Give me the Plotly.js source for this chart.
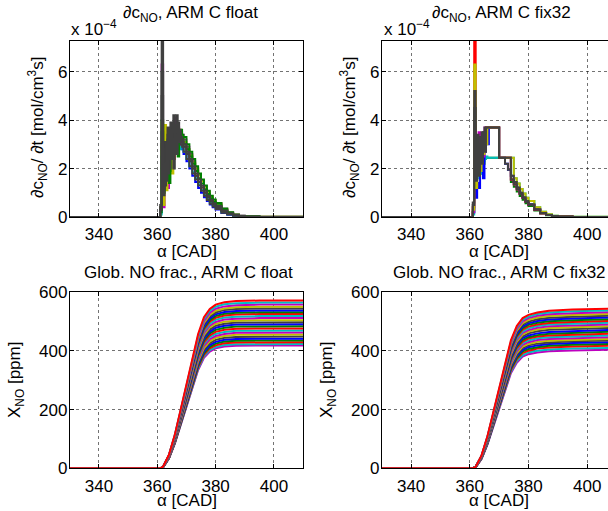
<!DOCTYPE html>
<html>
<head>
<meta charset="utf-8">
<script src="https://cdn.plot.ly/plotly-3.0.1.min.js"></script>
<style>
html,body{margin:0;padding:0;overflow:hidden;background:#fff;}
#chart{width:620px;height:511px;}
</style>
</head>
<body>
<div id="chart"></div>
<script>
// ---------------- DATA ----------------
// crank angle grid for the NO rate panels (CAD)
const crankRate = [330,360.5,361,361.5,362,362.5,363,363.5,364,364.5,365,365.5,366,366.5,367,367.5,368,368.5,369,370,371,372,373,374,375,376,377,378,379,380,382,384,386,388,390,395,410];

// dc_NO/dt, ARM C float  (x 1e-4 mol/cm^3 s)
const rateFloat = [
  [0,0,0.3,3.0,1.6,2.4,2.9,2.2,3.3,2.7,3.0,2.4,3.9,3.1,3.5,2.9, 3.3,3.1,2.9,2.6,2.3,2.0,1.7,1.45,1.22,1.0,0.82,0.66,0.52,0.41,0.24,0.13,0.07,0.03,0.01,0,0],
  [0,0,0.2,2.5,1.4,1.9,1.6,1.2,2.2,2.8,2.0,3.2,2.6,3.4,2.9,3.3, 3.0,2.8,2.6,2.3,2.0,1.7,1.45,1.2,1.0,0.82,0.66,0.52,0.40,0.31,0.17,0.09,0.04,0.02,0.01,0,0],
  [0,0,0.1,2.0,1.2,1.7,2.3,2.0,2.6,2.3,2.8,3.0,2.7,3.1,3.0,2.8, 2.9,3.0,2.7,2.4,2.1,1.85,1.6,1.35,1.12,0.92,0.74,0.59,0.46,0.36,0.2,0.11,0.05,0.02,0.01,0,0],
  [0,0,0.3,6.3,0.4,1.8,2.6,1.2,3.0,2.2,3.5,3.1,4.1,3.3,3.7,3.0, 3.5,3.4,3.2,2.9,2.6,2.3,2.0,1.75,1.5,1.27,1.05,0.86,0.70,0.56,0.34,0.19,0.10,0.05,0.02,0.01,0],
  [0,0,0.4,3.9,0.5,3.8,1.1,2.5,2.1,3.3,1.8,2.9,3.5,2.7,3.1,3.6, 3.4,3.3,3.1,2.8,2.55,2.25,2.0,1.72,1.48,1.25,1.04,0.85,0.69,0.55,0.33,0.18,0.09,0.04,0.02,0.01,0],
  [0,0,0.2,6.0,1.0,2.2,1.8,2.9,1.4,3.1,2.4,3.6,2.8,3.2,2.5,3.4, 3.2,3.3,3.0,2.8,2.5,2.2,1.9,1.6,1.38,1.15,0.95,0.77,0.62,0.49,0.29,0.16,0.08,0.04,0.02,0,0],
  [0,0,0.3,4.0,1.1,2.6,2.1,3.2,1.9,3.4,2.9,3.3,3.5,3.0,3.6,3.2, 3.6,3.4,3.3,3.0,2.7,2.4,2.1,1.8,1.55,1.3,1.08,0.88,0.72,0.58,0.35,0.2,0.1,0.05,0.02,0.01,0],
  [0,0,0.3,5.0,0.9,3.1,2.0,3.7,2.4,3.0,3.8,2.6,3.6,4.2,3.3,3.5, 3.3,3.1,2.9,2.6,2.3,2.0,1.7,1.45,1.22,1.0,0.82,0.66,0.52,0.41,0.24,0.13,0.07,0.03,0.01,0,0],
  [0,0,0.5,9.0,1.2,2.8,1.5,3.4,2.0,3.9,2.6,4.2,3.0,3.8,3.4,3.6, 3.2,3.2,3.0,2.7,2.4,2.1,1.8,1.55,1.3,1.08,0.88,0.71,0.57,0.45,0.27,0.14,0.07,0.03,0.01,0,0],
  [0,0,0.4,3.5,2.2,1.3,3.0,1.8,3.6,2.4,3.2,2.0,3.4,2.6,3.9,3.1, 3.0,2.9,2.7,2.4,2.1,1.8,1.55,1.3,1.08,0.88,0.7,0.55,0.43,0.33,0.18,0.1,0.05,0.02,0.01,0,0]
];
const rateFloatColors = ['#FF0000','#0000FF','#00BFBF','#BF00BF','#BFBF00','#008000','#008000','#404040','#404040','#404040'];

// dc_NO/dt, ARM C fix32  (x 1e-4 mol/cm^3 s)
const rateFix = [
  [0,0,0.2,2.5,1.6,2.0,2.5,1.8,2.7,2.2,2.45,2.45,2.45,2.45,2.45,2.45, 2.45,2.45,2.45,2.45,2.45,2.45,2.45,1.45,1.25,1.05,0.87,0.71,0.57,0.45,0.27,0.14,0.07,0.03,0.01,0,0],
  [0,0,0.1,2.2,1.4,1.9,1.6,2.1,1.8,2.3,2.4,2.5,2.45,2.45,2.45,2.45, 2.45,2.45,2.45,2.45,2.45,2.45,2.45,2.45,1.6,1.38,1.16,0.97,0.8,0.66,0.4,0.22,0.11,0.05,0.02,0.01,0],
  [0,0,0.2,3.9,0.8,1.4,1.2,1.9,2.3,1.6,2.7,3.6,3.0,3.7,3.7,3.7, 3.7,3.7,3.7,2.45,2.45,2.2,1.95,1.7,1.45,1.22,1.0,0.82,0.66,0.53,0.32,0.17,0.08,0.04,0.02,0,0],
  [0,0,0.2,2.8,1.3,2.4,3.5,2.2,3.1,2.5,3.7,3.7,3.7,3.7,3.7,3.7, 3.7,3.7,3.7,2.45,2.45,2.45,2.45,1.55,1.35,1.15,0.95,0.78,0.62,0.5,0.3,0.16,0.08,0.04,0.02,0,0],
  [0,0,0.4,7.6,1.8,2.6,2.2,2.9,2.4,3.1,3.2,3.7,3.7,3.7,3.7,3.7, 3.7,3.7,3.7,2.45,2.45,2.45,2.45,1.55,1.35,1.15,0.95,0.78,0.62,0.5,0.3,0.16,0.08,0.04,0.02,0,0],
  [0,0,0.3,6.3,1.2,2.0,2.8,1.9,3.0,2.6,3.4,3.0,3.7,3.7,3.7,3.7, 3.7,3.7,3.7,2.45,2.45,2.45,2.45,2.45,1.6,1.38,1.16,0.97,0.8,0.66,0.4,0.22,0.11,0.05,0.02,0.01,0],
  [0,0,0.6,4.5,2.0,3.4,2.1,3.0,3.5,2.9,3.7,3.7,3.7,3.7,3.7,3.7, 3.7,3.7,3.7,2.45,2.45,2.45,2.45,1.55,1.35,1.15,0.95,0.78,0.62,0.5,0.3,0.16,0.08,0.04,0.02,0,0],
  [0,0,0.5,5.2,1.5,2.8,1.7,3.3,2.2,3.5,2.7,3.7,3.7,3.7,3.7,3.7, 3.7,3.7,3.7,2.45,2.45,2.2,1.95,1.7,1.45,1.22,1.0,0.82,0.66,0.53,0.32,0.17,0.08,0.04,0.02,0,0]
];
const rateFixColors = ['#008000','#00BFBF','#0000FF','#BF00BF','#FF0000','#BFBF00','#404040','#404040'];

// crank angle grid for the NO fraction panels (CAD)
const crankFrac = [330,361,362,364,366,368,370,372,374,376,378,380,383,387,395,410];

// global NO fraction, ARM C float (ppm)
const fracFloat = [
  [0,0,6,46,114,200,286,378,458,515,543,558,566,570,572,572],
  [0,0,6,45,113,198,283,373,452,509,537,551,559,563,565,565],
  [0,0,6,45,112,195,279,368,446,502,530,544,552,556,558,558],
  [0,0,6,44,110,193,276,364,441,496,523,537,545,549,551,551],
  [0,0,5,44,109,191,273,360,436,491,518,531,540,543,545,545],
  [0,0,5,43,108,188,269,355,430,484,511,525,533,536,538,538],
  [0,0,5,43,106,186,266,351,426,479,505,519,527,530,532,532],
  [0,0,5,42,105,184,263,347,421,473,500,513,521,524,526,526],
  [0,0,5,42,104,182,260,343,415,467,493,506,514,517,519,519],
  [0,0,5,41,102,179,256,338,410,461,486,499,507,510,512,512],
  [0,0,5,40,101,177,253,333,404,455,480,492,500,503,505,505],
  [0,0,5,40,100,174,249,329,398,448,473,486,493,497,498,498],
  [0,0,5,39,98,172,246,324,393,442,466,479,486,490,491,491],
  [0,0,5,39,97,169,242,319,387,436,460,472,479,483,484,484],
  [0,0,5,38,95,167,239,315,382,429,453,465,472,476,477,477],
  [0,0,5,38,94,165,235,310,376,423,447,458,465,469,470,470],
  [0,0,5,37,93,162,232,306,370,417,440,451,458,462,463,463],
  [0,0,5,36,91,160,228,301,365,410,433,445,451,455,456,456],
  [0,0,4,36,90,157,225,296,359,404,427,438,445,448,449,449],
  [0,0,4,35,88,155,221,292,354,398,420,431,438,441,442,442],
  [0,0,4,35,87,153,218,288,349,392,414,425,432,435,436,436],
  [0,0,4,34,86,151,215,284,344,387,409,419,426,429,430,430],
  [0,0,4,34,85,148,212,280,339,382,403,413,420,423,424,424],
  [0,0,4,34,84,147,210,277,335,377,398,409,415,418,419,419]
];

// global NO fraction, ARM C fix32 (ppm)
const fracFix = [
  [0,0,5,44,109,191,273,360,436,485,512,523,531,537,541,545],
  [0,0,5,43,108,189,270,356,431,480,507,517,526,531,535,539],
  [0,0,5,43,107,187,267,352,426,474,501,512,520,525,529,533],
  [0,0,5,42,105,184,264,348,422,469,495,506,514,519,523,527],
  [0,0,5,42,104,182,261,344,417,464,490,500,508,513,517,521],
  [0,0,5,41,103,180,258,340,412,458,484,494,502,507,511,515],
  [0,0,5,41,102,178,255,336,407,453,478,489,496,501,505,509],
  [0,0,5,40,101,176,252,332,402,448,473,483,490,495,499,503],
  [0,0,5,40,99,174,249,328,398,442,467,477,485,490,493,497],
  [0,0,5,39,98,172,246,324,393,437,462,471,479,484,487,491],
  [0,0,5,39,97,170,243,320,388,432,456,466,473,478,481,485],
  [0,0,5,38,96,168,240,316,383,426,450,460,467,472,475,479],
  [0,0,5,38,94,165,236,312,378,420,444,453,460,465,468,472],
  [0,0,5,37,93,163,233,308,373,415,438,447,454,459,462,466],
  [0,0,5,37,92,161,230,304,368,409,432,442,449,453,456,460],
  [0,0,5,36,91,159,227,300,363,404,427,436,443,447,450,454],
  [0,0,4,36,90,157,224,296,358,399,421,430,437,441,444,448],
  [0,0,4,35,88,155,221,292,354,393,415,424,431,435,438,442],
  [0,0,4,35,87,153,218,288,349,388,410,419,425,429,433,436],
  [0,0,4,34,86,151,215,284,344,383,404,413,419,424,427,430],
  [0,0,4,34,85,148,212,280,339,377,399,407,413,418,421,424],
  [0,0,4,33,84,146,209,276,334,372,393,401,408,412,415,418],
  [0,0,4,33,82,144,206,271,329,366,386,395,401,405,408,411],
  [0,0,4,32,81,142,203,267,324,360,381,389,395,399,402,405]
];

const xTicks = [340,360,380,400];
const rateTicks = [0,2,4,6];
const fracTicks = [0,200,400,600];

// ---------------- DRAW ----------------
const cycle = ['#0000FF','#008000','#FF0000','#00BFBF','#BF00BF','#BFBF00','#404040'];
const W = 620, H = 511;
const fx = p => p / W;
const fy = p => 1 - p / H;
const traces = [];

rateFloat.forEach((ys, i) => traces.push({x: crankRate, y: ys, xaxis:'x', yaxis:'y', type:'scatter', mode:'lines',
  line:{color: rateFloatColors[i], width:2, shape:'hv'}, hoverinfo:'skip'}));
rateFix.forEach((ys, i) => traces.push({x: crankRate, y: ys, xaxis:'x2', yaxis:'y2', type:'scatter', mode:'lines',
  line:{color: rateFixColors[i], width:2, shape:'hv'}, hoverinfo:'skip'}));
for (let i = fracFloat.length - 1; i >= 0; i--) traces.push({x: crankFrac, y: fracFloat[i], xaxis:'x3', yaxis:'y3', type:'scatter', mode:'lines',
  line:{color: cycle[(i + 2) % 7], width:2}, hoverinfo:'skip'});
for (let i = fracFix.length - 1; i >= 0; i--) traces.push({x: crankFrac, y: fracFix[i], xaxis:'x4', yaxis:'y4', type:'scatter', mode:'lines',
  line:{color: cycle[(i + 2) % 7], width:2}, hoverinfo:'skip'});

const FONT = 'Liberation Sans, Arial, Helvetica, sans-serif';
const FS = 17;
function baseAxis() {
  return {showline:true, linecolor:'#000', linewidth:1, mirror:'ticks', ticks:'inside', ticklen:4, tickcolor:'#000',
    showgrid:true, gridcolor:'rgba(0,0,0,0.55)', griddash:'dot', gridwidth:1, zeroline:false,
    tickfont:{family:FONT, size:FS, color:'#000'}, fixedrange:true};
}
function xa(dom, anchor) {
  return Object.assign(baseAxis(), {domain: dom, anchor: anchor, range:[330,410], tickvals: xTicks,
    ticktext: xTicks.map(String), ticklabelstandoff: 2});
}
function ya(dom, anchor, range, ticks) {
  return Object.assign(baseAxis(), {domain: dom, anchor: anchor, range: range, tickvals: ticks,
    ticktext: ticks.map(String), ticklabelstandoff: -2});
}
const xL = [fx(69.8), fx(303.1)], xR = [fx(381.8), fx(616.5)];
const yT = [fy(217), fy(41)], yB = [fy(468.3), fy(292.3)];

function ann(text, x, y, opts) {
  return Object.assign({text: text, xref:'paper', yref:'paper', x: fx(x), y: fy(y), showarrow:false,
    xanchor:'center', yanchor:'middle', font:{family:FONT, size:FS, color:'#000'}}, opts || {});
}

const annotations = [
  ann('∂c<sub>NO</sub>, ARM C float', 190, 14),
  ann('∂c<sub>NO</sub>, ARM C fix32', 501, 14),
  ann('Glob. NO frac., ARM C float', 188, 272),
  ann('Glob. NO frac., ARM C fix32', 499, 272),
  ann('x 10<sup>−4</sup>', 69, 28, {xanchor:'left'}),
  ann('x 10<sup>−4</sup>', 382, 28, {xanchor:'left'}),
  ann('α [CAD]', 187, 251),
  ann('α [CAD]', 499, 251),
  ann('α [CAD]', 187, 500),
  ann('α [CAD]', 499, 500),
  ann('∂c<sub>NO</sub>/ ∂t [mol/cm<sup>3</sup>s]', 37, 128, {textangle:-90}),
  ann('∂c<sub>NO</sub>/ ∂t [mol/cm<sup>3</sup>s]', 349, 128, {textangle:-90}),
  ann('X<sub>NO</sub> [ppm]', 16, 380, {textangle:-90}),
  ann('X<sub>NO</sub> [ppm]', 328, 380, {textangle:-90})
];

const layout = {
  width: W, height: H, margin:{l:0, r:0, t:0, b:0}, showlegend:false,
  paper_bgcolor:'#fff', plot_bgcolor:'#fff', font:{family:FONT, size:FS, color:'#000'},
  xaxis: xa(xL, 'y'), yaxis: ya(yT, 'x', [0, 7.27], rateTicks),
  xaxis2: xa(xR, 'y2'), yaxis2: ya(yT, 'x2', [0, 7.27], rateTicks),
  xaxis3: xa(xL, 'y3'), yaxis3: ya(yB, 'x3', [0, 600], fracTicks),
  xaxis4: xa(xR, 'y4'), yaxis4: ya(yB, 'x4', [0, 600], fracTicks),
  annotations: annotations
};

Plotly.newPlot('chart', traces, layout, {staticPlot:true, displayModeBar:false});
</script>
</body>
</html>
